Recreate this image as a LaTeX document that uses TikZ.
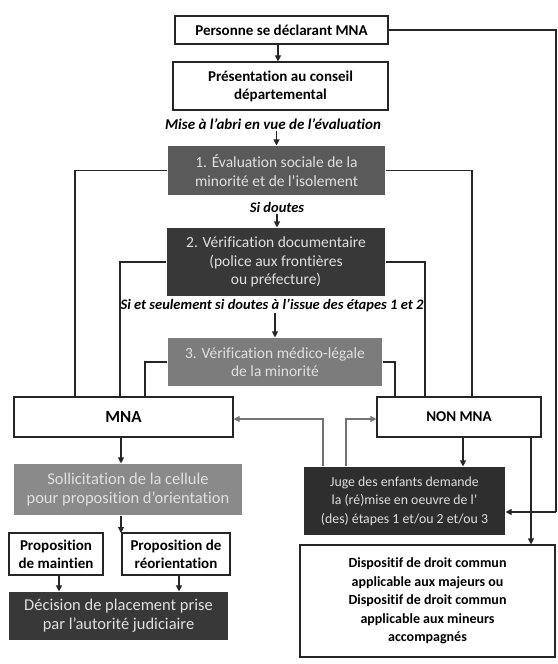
\documentclass[tikz,border=0pt]{standalone}
\usepackage{fontspec}
\setmainfont{Carlito}[Ligatures={TeX,NoCommon}]
\usetikzlibrary{arrows.meta}
\definecolor{gA}{HTML}{5A5A5A}
\definecolor{gB}{HTML}{383838}
\definecolor{gC}{HTML}{7C7C7C}
\definecolor{gD}{HTML}{8A8A8A}
\definecolor{gE}{HTML}{2E2E2E}
\begin{document}
\begin{tikzpicture}[x=1pt,y=-1pt,
 line width=1.1pt,
 box/.style={draw=black!85, line width=1.1pt, rectangle, inner sep=1pt, align=center},
 wbox/.style={box, fill=white, font=\fontsize{15}{18}\selectfont\bfseries},
 gbox/.style={rectangle, inner sep=1pt, align=center, text=white!88!black, font=\fontsize{15.5}{18.5}\selectfont},
 lbl/.style={font=\fontsize{14.5}{16}\selectfont\bfseries\itshape, inner sep=1pt},
 arr/.style={draw=black!85, -{Triangle[length=6pt,width=6pt]}},
 garr/.style={draw=black!55, -{Triangle[length=6pt,width=6pt]}},
 conn/.style={draw=black!85},
]
\useasboundingbox (0,0) rectangle (557,664);
\fill[white] (0,0) rectangle (557,664);

\node[wbox, minimum width=213pt, minimum height=28pt] (pers) at (281.5,30) {Personne se déclarant MNA};
\node[wbox, minimum width=215pt, minimum height=48pt] (pres) at (280.5,86) {Présentation au conseil\\départemental};
\node[lbl, font=\fontsize{15}{16}\selectfont\bfseries\itshape] (mise) at (273,124) {Mise à l'abri en vue de l'évaluation};
\node[gbox, fill=gA, minimum width=217pt, minimum height=49pt] (b1) at (276.5,170.5) {1. Évaluation sociale de la\\minorité et de l'isolement};
\node[lbl] (sid) at (277,207) {Si doutes};
\node[gbox, fill=gB, minimum width=218pt, minimum height=68pt] (b2) at (276,262) {2. Vérification documentaire\\(police aux frontières\\ou préfecture)};
\node[lbl] (siet) at (272,305) {Si et seulement si doutes à l'issue des étapes 1 et 2};
\node[gbox, fill=gC, minimum width=214pt, minimum height=48pt] (b3) at (275,362) {3. Vérification médico-légale\\de la minorité};
\node[wbox, minimum width=219pt, minimum height=40pt, font=\fontsize{17}{18}\selectfont\bfseries] (mna) at (123.5,417) {MNA};
\node[wbox, minimum width=164pt, minimum height=40pt, font=\fontsize{15}{18}\selectfont\bfseries] (non) at (459,417) {NON MNA};
\node[gbox, fill=gD, minimum width=228pt, minimum height=51pt, font=\fontsize{16.5}{19}\selectfont] (soll) at (128,489.5) {Sollicitation de la cellule\\pour proposition d'orientation};
\node[gbox, fill=gE, minimum width=201pt, minimum height=68pt, font=\fontsize{13.8}{18.5}\selectfont] (juge) at (404.5,501) {Juge des enfants demande\\la (ré)mise en oeuvre de l'\\(des) étapes 1 et/ou 2 et/ou 3};
\node[wbox, minimum width=94pt, minimum height=42pt] (propL) at (56,554) {Proposition\\de maintien};
\node[wbox, minimum width=108pt, minimum height=42pt] (propR) at (176,554) {Proposition de\\réorientation};
\node[gbox, fill=gB, minimum width=219pt, minimum height=48pt, font=\fontsize{16.5}{19}\selectfont] (dec) at (118.5,616) {Décision de placement prise\\par l'autorité judiciaire};
\node[wbox, minimum width=255pt, minimum height=112pt, font=\fontsize{14}{18.5}\selectfont\bfseries] (disp) at (427.5,601) {Dispositif de droit commun\\applicable aux majeurs ou\\Dispositif de droit commun\\applicable aux mineurs\\accompagnés};

% coordinates
\coordinate (xl1) at (75,0);
\coordinate (xr1) at (472,0);
\coordinate (xl2) at (120,0);
\coordinate (xr2) at (425,0);
\coordinate (xl3) at (145,0);
\coordinate (xr3) at (395,0);
\coordinate (re1) at (556,30);
\coordinate (re2) at (556,512);
\coordinate (g1) at (323,419);
\coordinate (g2) at (346,419);
\coordinate (sa) at (121,533);
\coordinate (pa) at (278,0);
\coordinate (ja) at (463,0);
\coordinate (da) at (531,0);

% main chain
\draw[arr] (pa |- pers.south) -- (pa |- pres.north);
\draw[arr] (mise.south -| b1.north) -- (b1.north);
\draw[arr] (sid.south) -- (b2.north -| sid.south);
\draw[arr] (siet.south -| b3.north) -- (b3.north);

% side connectors
\draw[conn] (b1.west) -| (xl1 |- mna.north);
\draw[conn] (b1.east) -| (xr1 |- non.north);
\draw[conn] (b2.west) -| (xl2 |- mna.north);
\draw[conn] (b2.east) -| (xr2 |- non.north);
\draw[conn] (b3.west) -| (xl3 |- mna.north);
\draw[conn] (b3.east) -| (xr3 |- non.north);

% top line to juge
\draw[conn] (pers.east) -- (re1) -- (re2);
\draw[arr] (re2) -- (re2 -| juge.east);

% juge back to MNA / NON MNA
\draw[garr] (g1 |- juge.north) -- (g1) -- (g1 -| mna.east);
\draw[garr] (g2 |- juge.north) -- (g2) -- (g2 -| non.west);

% non mna
\draw[arr] (ja |- non.south) -- (ja |- juge.north);
\draw[arr] (da |- non.south) -- (da |- disp.north);

% mna side
\draw[arr] (sa |- mna.south) -- (sa |- soll.north);
\draw[arr] (sa |- soll.south) -- (sa);
\draw[arr] ([xshift=3pt]propL.south) -- ([xshift=3pt]propL.south |- dec.north);
\draw[arr] ([xshift=3pt]propR.south) -- ([xshift=3pt]propR.south |- dec.north);
\end{tikzpicture}
\end{document}
